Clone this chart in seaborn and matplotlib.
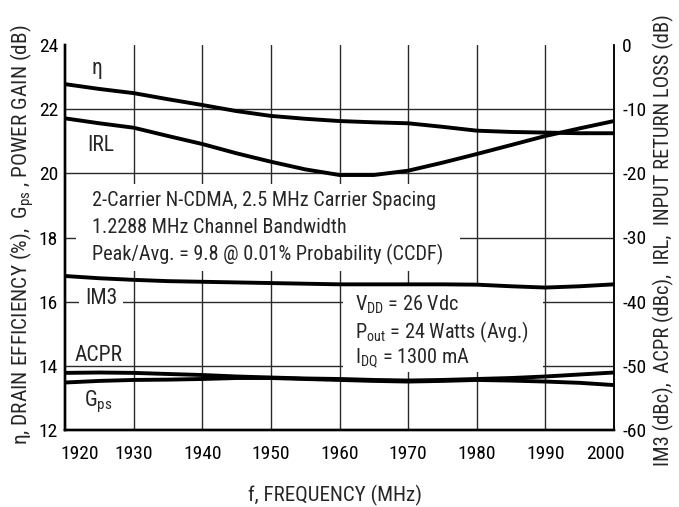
import matplotlib
matplotlib.use("Agg")
import matplotlib.pyplot as plt
import seaborn as sns
from matplotlib import font_manager as fm
from matplotlib.font_manager import FontProperties
from matplotlib.patches import Rectangle
from matplotlib.transforms import ScaledTranslation

# ---- data ----
freq = [1920, 1925, 1930, 1935, 1940, 1945, 1950, 1955, 1960,
        1965, 1970, 1975, 1980, 1985, 1990, 1995, 2000]
eta = [22.78, 22.63, 22.50, 22.31, 22.13, 21.94, 21.79, 21.70, 21.63,
       21.59, 21.56, 21.45, 21.33, 21.29, 21.27, 21.25, 21.25]
gps = [13.48, 13.53, 13.56, 13.57, 13.59, 13.62, 13.62, 13.59, 13.56,
       13.53, 13.51, 13.53, 13.56, 13.54, 13.51, 13.47, 13.40]
irl = [-11.43, -12.20, -12.89, -14.18, -15.43, -16.88, -18.19, -19.38, -20.26,
       -20.26, -19.59, -18.34, -16.99, -15.59, -14.18, -12.99, -11.85]
im3 = [-36.0, -36.35, -36.6, -36.8, -36.9, -37.0, -37.1, -37.2, -37.3,
       -37.3, -37.3, -37.3, -37.35, -37.6, -37.8, -37.6, -37.3]
acpr = [-51.10, -51.04, -51.10, -51.27, -51.43, -51.66, -51.82, -51.97, -52.05,
        -52.20, -52.29, -52.20, -52.05, -51.90, -51.66, -51.35, -51.04]

x_ticks = [1920, 1930, 1940, 1950, 1960, 1970, 1980, 1990, 2000]
left_ticks = [12, 14, 16, 18, 20, 22, 24]
right_ticks = [-60, -50, -40, -30, -20, -10, 0]
right_labels = ["-60", "-50", "-40", "-30", "-20", "-10", "0"]

box1_lines = ["2-Carrier N-CDMA, 2.5 MHz Carrier Spacing",
              "1.2288 MHz Channel Bandwidth",
              "Peak/Avg. = 9.8 @ 0.01% Probability (CCDF)"]
box2_lines = [r"V$_{DD}$ = 26 Vdc",
              r"P$_{out}$ = 24 Watts (Avg.)",
              r"I$_{DQ}$ = 1300 mA"]
xlabel = "f, FREQUENCY (MHz)"
ylabel_left = r"η, DRAIN EFFICIENCY (%),  G$_{ps}$ , POWER GAIN (dB)"
ylabel_right = "IM3 (dBc),  ACPR (dBc),  IRL,  INPUT RETURN LOSS (dB)"

sns.set_style("white")

# ---- pick a condensed sans font if one is installed ----
names = {f.name for f in fm.fontManager.ttflist}
family, stretch = None, "normal"
for n in ["Liberation Sans Narrow", "Roboto Condensed", "Noto Sans Condensed",
          "DejaVu Sans Condensed", "Open Sans Condensed", "Arial Narrow"]:
    if n in names:
        family = n
        break
if family is None:
    for f in fm.fontManager.ttflist:
        if (f.name in ("Liberation Sans", "Roboto", "Noto Sans", "DejaVu Sans", "Open Sans")
                and str(f.stretch) in ("condensed", "semi-condensed", "extra-condensed")
                and f.style == "normal" and str(f.weight) in ("400", "normal", "regular")):
            family, stretch = f.name, f.stretch
            break
if family is None:
    family = "Liberation Sans"

plt.rcParams["font.family"] = [family, "DejaVu Sans"]
plt.rcParams["font.stretch"] = stretch
plt.rcParams["mathtext.default"] = "regular"

W, H = 679, 507
fig = plt.figure(figsize=(W / 100, H / 100), dpi=100)
renderer = fig.canvas.get_renderer()


def fit(s, target_px, ismath=False):
    fp = FontProperties(family=[family, "DejaVu Sans"], stretch=stretch, size=10)
    w, h, d = renderer.get_text_width_height_descent(s, fp, ismath=ismath)
    return 10.0 * target_px / w


tick_fs = min(fit("1920", 38), 18)
box_fs = min(fit(box1_lines[0], 342), 17)
lab_fs = min(fit("ACPR", 48), 17)
xlab_fs = min(fit(xlabel, 174), 17)
ylab_fs = min(fit("η, DRAIN EFFICIENCY (%),  Gps , POWER GAIN (dB)", 424), 17)
ylab2_fs = min(fit(ylabel_right, 452), 17)

L, R, B, T = 65, 614, 430, 45
ax = fig.add_axes([L / W, 1 - B / H, (R - L) / W, (B - T) / H])
ax2 = ax.twinx()

LW = 2.8
sns.lineplot(x=freq, y=eta, ax=ax, color="black", linewidth=LW, zorder=3)
sns.lineplot(x=freq, y=gps, ax=ax, color="black", linewidth=LW, zorder=3)
sns.lineplot(x=freq, y=irl, ax=ax2, color="black", linewidth=LW, zorder=3)
sns.lineplot(x=freq, y=im3, ax=ax2, color="black", linewidth=LW, zorder=3)
sns.lineplot(x=freq, y=acpr, ax=ax2, color="black", linewidth=LW, zorder=3)

ax.set_xlim(1920, 2000)
ax.set_ylim(12, 24)
ax2.set_ylim(-60, 0)

ax.set_xticks(x_ticks)
ax.set_xticklabels([str(v) for v in x_ticks])
ax.set_yticks(left_ticks)
ax.set_yticklabels([str(v) for v in left_ticks])
ax2.set_yticks(right_ticks)
ax2.set_yticklabels(right_labels)

ax.tick_params(axis="x", length=0, pad=11, labelsize=tick_fs, colors="black")
ax.tick_params(axis="y", length=0, pad=5, labelsize=tick_fs, colors="black")
ax2.tick_params(axis="y", length=0, pad=6, labelsize=tick_fs, colors="black")

# shift edge x labels inward like the reference
xl = ax.get_xticklabels()
xl[0].set_transform(xl[0].get_transform() + ScaledTranslation(15 / 100, 0, fig.dpi_scale_trans))
xl[-1].set_transform(xl[-1].get_transform() + ScaledTranslation(-9 / 100, 0, fig.dpi_scale_trans))

ax.grid(True, color="#2a2a2a", linewidth=1.0)
ax.set_axisbelow(True)
ygl = ax.yaxis.get_gridlines()
ygl[-1].set_visible(False)
ygl[0].set_visible(False)
xgl = ax.xaxis.get_gridlines()
xgl[0].set_visible(False)
xgl[-1].set_visible(False)
ax2.grid(False)

for a in (ax, ax2):
    a.spines["top"].set_visible(False)
    a.spines["left"].set_linewidth(1.7)
    a.spines["bottom"].set_linewidth(1.7)
    a.spines["right"].set_linewidth(1.1)
    for s in a.spines.values():
        s.set_color("black")
ax2.patch.set_visible(False)

# white boxes behind annotation text (mask grid lines)
ax.add_patch(Rectangle((11 / 549, (430 - 271) / 385), 384 / 549, 87 / 385,
                       transform=ax.transAxes, facecolor="white", edgecolor="none", zorder=1))
ax.add_patch(Rectangle((278 / 549, (430 - 372) / 385), 200 / 549, 89 / 385,
                       transform=ax.transAxes, facecolor="white", edgecolor="none", zorder=1))

for txt, yy in zip(box1_lines, [0.5826, 0.511, 0.4416]):
    ax.text(0.049, yy, txt, transform=ax.transAxes, fontsize=box_fs,
            ha="left", va="baseline", zorder=5)

for txt, yy in zip(box2_lines, [0.31, 0.239, 0.175]):
    ax.text(0.528, yy, txt, transform=ax.transAxes, fontsize=box_fs,
            ha="left", va="baseline", zorder=5)

ax.text(0.049, 0.925, "η", transform=ax.transAxes, fontsize=lab_fs,
        ha="left", va="baseline", zorder=5)
ax.text(0.040, 0.725, "IRL", transform=ax.transAxes, fontsize=lab_fs,
        ha="left", va="baseline", zorder=5)
ax.text(0.036, 0.327, "IM3", transform=ax.transAxes, fontsize=lab_fs,
        ha="left", va="baseline", zorder=5,
        bbox=dict(facecolor="white", edgecolor="none", pad=4))
ax.text(0.018, 0.18, "ACPR", transform=ax.transAxes, fontsize=lab_fs,
        ha="left", va="baseline", zorder=5)
ax.text(0.034, 0.0606, r"G$_{ps}$", transform=ax.transAxes, fontsize=lab_fs,
        ha="left", va="baseline", zorder=5)

ax.set_xlabel(xlabel, fontsize=xlab_fs)
ax.xaxis.set_label_coords((335 - 65) / 549, (430 - 495) / 385)
ax.set_ylabel(ylabel_left, fontsize=ylab_fs)
ax.yaxis.set_label_coords((22 - 65) / 549, (430 - 235) / 385)
ax2.set_ylabel(ylabel_right, fontsize=ylab2_fs, rotation=90)
ax2.yaxis.set_label_coords((663 - 65) / 549, (430 - 240) / 385)
ax.xaxis.label.set_verticalalignment("center")
ax.yaxis.label.set_verticalalignment("center")
ax2.yaxis.label.set_verticalalignment("center")

fig.savefig("out.png", dpi=100)
